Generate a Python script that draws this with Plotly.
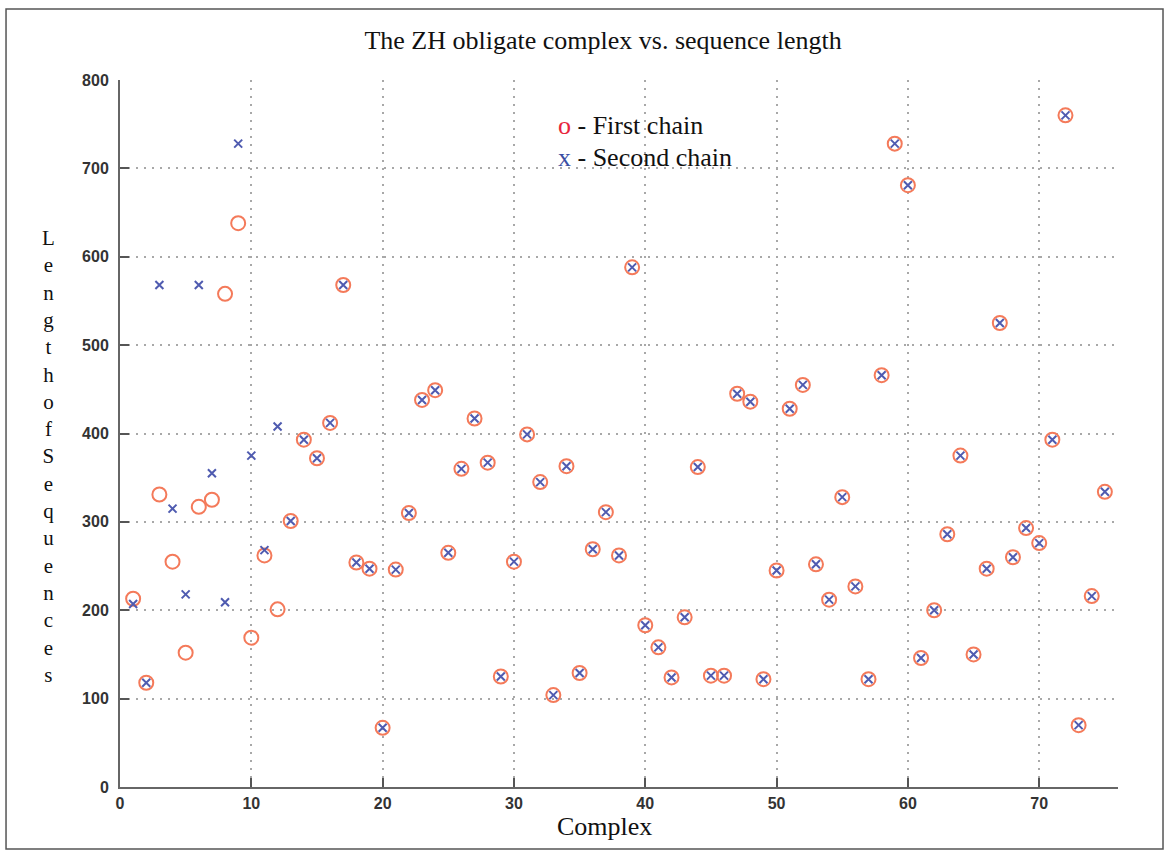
import plotly.graph_objects as go

# Complex index and sequence lengths of the two chains
complex_id = list(range(1, 76))
first_chain = [213, 118, 331, 255, 152, 317, 325, 558, 638, 169,
               262, 201, 301, 393, 372, 412, 568, 254, 247, 67,
               246, 310, 438, 449, 265, 360, 417, 367, 125, 255,
               399, 345, 104, 363, 129, 269, 311, 262, 588, 183,
               158, 124, 192, 362, 126, 126, 445, 436, 122, 245,
               428, 455, 252, 212, 328, 227, 122, 466, 728, 681,
               146, 200, 286, 375, 150, 247, 525, 260, 293, 276,
               393, 760, 70, 216, 334]
second_chain = [207, 118, 568, 315, 218, 568, 355, 209, 728, 375,
                268, 408, 301, 393, 372, 412, 568, 254, 247, 67,
                246, 310, 438, 449, 265, 360, 417, 367, 125, 255,
                399, 345, 104, 363, 129, 269, 311, 262, 588, 183,
                158, 124, 192, 362, 126, 126, 445, 436, 122, 245,
                428, 455, 252, 212, 328, 227, 122, 466, 728, 681,
                146, 200, 286, 375, 150, 247, 525, 260, 293, 276,
                393, 760, 70, 216, 334]

x_ticks = [0, 10, 20, 30, 40, 50, 60, 70]
y_ticks = [0, 100, 200, 300, 400, 500, 600, 700, 800]

SERIF = "Liberation Serif, Times New Roman, serif"
SANS = "Liberation Sans, Arial, sans-serif"

fig = go.Figure()
fig.add_trace(go.Scatter(
    x=complex_id, y=first_chain, mode="markers", name="First chain",
    marker=dict(symbol="circle-open", size=14, color="#f47a5a",
                line=dict(width=2, color="#f47a5a")),
))
fig.add_trace(go.Scatter(
    x=complex_id, y=second_chain, mode="markers", name="Second chain",
    marker=dict(symbol="x-thin-open", size=8, color="#4f5bb0",
                line=dict(width=2, color="#4f5bb0")),
))

axis_common = dict(
    showgrid=True, gridcolor="#a8a8a8", griddash="2px,6px", gridwidth=1.5,
    showline=True, linecolor="#666666", linewidth=2, mirror=False,
    ticks="inside", ticklen=9, tickwidth=2, tickcolor="#555555",
    tickfont=dict(family=SANS, size=16, color="#333333", weight="bold"),
    zeroline=False,
)

fig.update_layout(
    width=1168, height=850,
    paper_bgcolor="white", plot_bgcolor="white",
    margin=dict(l=120, r=50, t=80, b=63),
    showlegend=False,
    title=dict(text="The ZH obligate complex vs. sequence length",
               x=0.5163, xanchor="center", y=0.953, yanchor="middle",
               font=dict(family=SERIF, size=26, color="#111111")),
    xaxis=dict(range=[0, 76], tickvals=x_ticks, ticklabelstandoff=1,
               **axis_common),
    yaxis=dict(range=[0, 800], tickvals=y_ticks, ticklabelstandoff=6,
               **axis_common),
)

# x-axis title
fig.add_annotation(text="Complex", xref="paper", yref="paper",
                   x=0.485, y=-0.0555, xanchor="center", yanchor="middle",
                   showarrow=False,
                   font=dict(family=SERIF, size=26, color="#111111"))

# y-axis title, one letter per line
y_title = "Length of Sequences".replace(" ", "")
fig.add_annotation(text="<br>".join(y_title), xref="paper", yref="paper",
                   x=-0.072, y=0.468, xanchor="center", yanchor="middle",
                   showarrow=False, align="center",
                   font=dict(family=SERIF, size=21, color="#111111"))

# in-plot key
fig.add_annotation(text="<span style='color:#e8243c'>o</span> - First chain",
                   xref="paper", yref="paper", x=0.4369, y=0.936,
                   xanchor="left", yanchor="middle", showarrow=False,
                   font=dict(family=SERIF, size=26, color="#111111"))
fig.add_annotation(text="<span style='color:#3b4ea3'>x</span> - Second chain",
                   xref="paper", yref="paper", x=0.4369, y=0.891,
                   xanchor="left", yanchor="middle", showarrow=False,
                   font=dict(family=SERIF, size=26, color="#111111"))

# outer frame around the figure
fig.add_shape(type="rect", xref="paper", yref="paper",
              x0=-0.1142, x1=1.0451, y0=-0.0877, y1=1.1004,
              line=dict(color="#555555", width=1.5), layer="below")

fig.write_html("out.html")
